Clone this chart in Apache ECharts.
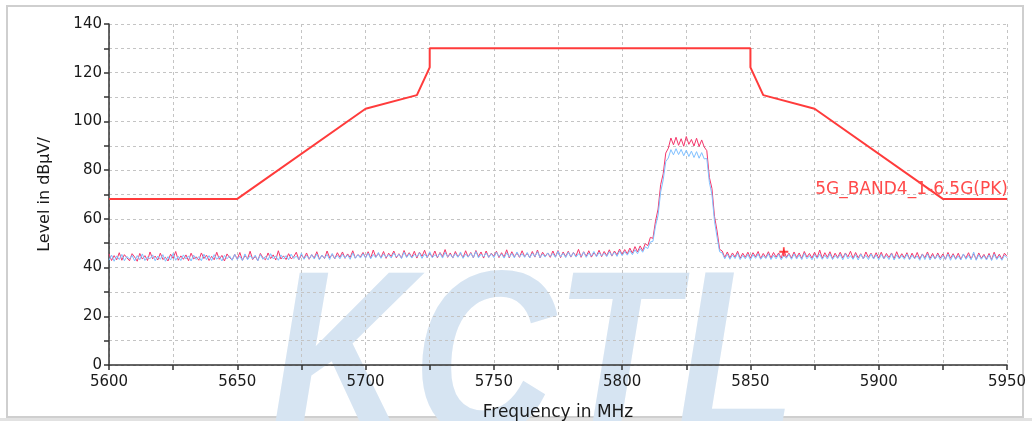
<!DOCTYPE html>
<html>
<head>
<meta charset="utf-8">
<script src="https://cdn.jsdelivr.net/npm/echarts@6/dist/echarts.min.js"></script>
<style>
html,body{margin:0;padding:0;background:#fff;}
#chart{width:1032px;height:421px;}
</style>
</head>
<body>
<div id="chart"></div>
<script>
// ---- data ----
const xTickValues = [5600, 5650, 5700, 5750, 5800, 5850, 5900, 5950];
const yTickValues = [0, 20, 40, 60, 80, 100, 120, 140];

const limitFreq  = [5600, 5650, 5700, 5720, 5725, 5725, 5850, 5850, 5855, 5875, 5925, 5950];
const limitLevel = [68.2, 68.2, 105.2, 110.8, 122.2, 130, 130, 122.2, 110.8, 105.2, 68.2, 68.2];
const limitName = '5G_BAND4_1-6.5G(PK)';

const traceStartMHz = 5600;
const traceStepMHz = 1;

const tracePink = [
  45.6, 42.9, 44.9, 43.2, 46.1, 43.0, 45.3, 44.0, 42.8, 45.7,
  44.3, 42.6, 45.8, 43.5, 44.9, 42.9, 46.4, 43.6, 44.7, 43.1,
  45.9, 43.3, 44.2, 42.7, 45.5, 43.8, 46.6, 43.0, 44.8, 43.4,
  45.2, 42.8, 45.9, 43.6, 44.4, 43.0, 46.0, 43.7, 45.1, 42.9,
  44.6, 43.2, 46.3, 43.4, 45.0, 42.7, 45.6, 44.1, 43.1, 45.4,
  43.5, 46.2, 43.0, 44.9, 43.6, 46.7, 43.3, 44.6, 42.9, 45.8,
  44.0, 43.2, 46.0, 43.7, 45.2, 43.1, 46.9, 43.5, 44.8, 43.3,
  45.7, 43.6, 44.4, 46.3, 43.2, 45.1, 43.8, 46.0, 43.4, 45.3,
  43.9, 46.5, 43.5, 45.0, 43.7, 46.8, 44.0, 45.4, 43.6, 46.1,
  44.2, 46.4, 43.8, 45.6, 44.1, 46.9, 43.9, 45.3, 44.4, 46.2,
  44.0, 46.5, 43.9, 47.2, 44.3, 45.8, 44.1, 46.6, 43.8, 45.9,
  44.5, 46.8, 44.0, 45.7, 43.9, 47.0, 44.4, 46.1, 44.2, 46.7,
  43.9, 46.3, 44.6, 47.1, 44.1, 45.9, 44.3, 46.8, 44.0, 46.2,
  44.5, 47.4, 44.2, 46.0, 43.9, 46.6, 44.4, 45.8, 44.1, 46.9,
  44.3, 46.2, 44.0, 47.0, 44.5, 46.4, 43.9, 46.8, 44.2, 45.9,
  44.6, 46.7, 44.1, 46.1, 44.3, 47.3, 44.0, 46.5, 44.4, 46.0,
  44.2, 46.9, 44.5, 45.8, 44.1, 46.6, 44.3, 47.2, 44.0, 46.3,
  44.6, 46.0, 44.2, 46.8, 44.4, 47.0, 44.1, 46.4, 44.5, 46.7,
  44.3, 46.2, 44.7, 47.5, 44.2, 46.5, 44.6, 46.9, 44.3, 46.1,
  44.8, 47.1, 44.5, 46.6, 44.9, 47.3, 44.7, 46.8, 45.2, 47.6,
  45.3, 47.4, 45.6, 48.0, 45.9, 48.6, 46.4, 48.9, 47.0, 49.8,
  49.0, 52.4, 52.0, 59.0, 64.0, 74.0, 78.5, 87.0, 89.0, 93.2,
  90.4, 93.5, 90.2, 92.9, 89.8, 93.8, 90.6, 92.6, 89.9, 93.1,
  89.7, 92.4, 89.5, 88.0, 77.0, 72.5, 61.0, 55.0, 47.5, 46.8,
  44.1, 46.4, 43.9, 46.0, 44.3, 46.7, 43.8, 45.9, 44.2, 46.3,
  43.9, 46.1, 44.4, 46.6, 43.7, 45.8, 44.1, 46.5, 43.9, 46.2,
  44.3, 46.0, 43.8, 47.4, 44.2, 45.9, 43.9, 46.4, 44.1, 46.0,
  43.7, 46.6, 44.3, 45.8, 43.9, 46.3, 44.0, 47.2, 43.8, 46.1,
  44.2, 46.5, 43.7, 45.9, 44.1, 46.3, 43.9, 46.0, 44.4, 46.7,
  43.8, 46.2, 44.0, 45.7, 43.6, 46.4, 44.2, 45.9, 43.8, 46.1,
  43.9, 46.3, 43.7, 45.8, 44.1, 46.0, 43.6, 46.5, 43.9, 45.7,
  44.0, 46.1, 43.5, 45.9, 43.8, 46.2, 43.6, 45.6, 44.0, 46.4,
  43.7, 45.8, 43.5, 46.0, 43.9, 45.6, 43.4, 46.2, 43.8, 45.7,
  43.6, 45.9, 43.4, 45.5, 43.9, 46.1, 43.5, 45.7, 43.3, 46.0,
  43.8, 45.4, 43.5, 45.8, 43.2, 46.3, 43.7, 45.5, 43.4, 45.9,
  44.6
];

const traceBlue = [
  43.0, 45.1, 42.6, 44.8, 43.3, 45.4, 42.8, 44.6, 43.5, 45.0,
  42.7, 44.9, 43.2, 45.6, 42.9, 44.4, 43.6, 45.2, 42.8, 44.7,
  43.4, 45.3, 42.6, 44.5, 43.1, 45.8, 43.0, 44.6, 42.9, 45.2,
  43.5, 44.8, 42.7, 45.1, 43.3, 44.5, 42.8, 45.5, 43.2, 44.9,
  42.9, 45.3, 43.4, 44.6, 42.7, 45.0, 43.6, 44.8, 43.0, 45.4,
  43.3, 44.7, 42.9, 45.6, 43.2, 44.9, 43.5, 45.1, 42.8, 45.3,
  43.4, 44.6, 43.1, 45.7, 43.6, 44.8, 43.0, 45.2, 43.5, 44.9,
  43.2, 45.5, 43.7, 44.7, 43.3, 45.9, 43.4, 45.0, 43.6, 45.3,
  43.5, 45.6, 43.2, 45.1, 43.8, 45.4, 43.3, 45.8, 43.7, 45.0,
  43.6, 45.5, 43.9, 45.2, 43.4, 46.0, 43.8, 45.3, 43.9, 45.7,
  44.0, 45.9, 43.6, 45.4, 44.1, 46.2, 43.8, 45.6, 44.2, 45.3,
  43.9, 46.0, 44.3, 45.5, 43.7, 46.3, 44.1, 45.7, 43.9, 45.4,
  44.4, 46.1, 43.8, 45.6, 44.2, 46.5, 44.0, 45.3, 44.3, 45.9,
  43.9, 46.2, 44.4, 45.5, 44.0, 45.8, 44.2, 46.4, 43.8, 45.6,
  44.3, 45.9, 44.1, 46.6, 44.0, 45.5, 44.4, 46.0, 44.2, 45.7,
  44.1, 46.3, 44.5, 45.6, 43.9, 46.1, 44.3, 45.8, 44.0, 46.4,
  44.4, 45.7, 44.2, 46.2, 44.0, 45.9, 44.5, 46.5, 44.1, 45.6,
  44.3, 46.0, 44.6, 45.8, 44.2, 46.7, 44.4, 45.9, 44.1, 46.3,
  44.5, 46.1, 44.3, 45.7, 44.6, 46.4, 44.2, 46.0, 44.7, 46.6,
  44.4, 46.2, 44.8, 45.9, 44.5, 46.5, 44.9, 46.3, 44.6, 46.8,
  44.9, 46.6, 45.1, 47.0, 45.3, 47.3, 45.7, 47.8, 46.3, 48.5,
  47.8, 50.5, 50.8, 57.0, 61.5, 71.0, 76.0, 83.5, 85.0, 88.4,
  86.3, 88.8, 86.4, 88.5, 85.9, 88.2, 85.6, 87.8, 85.2, 87.6,
  84.9, 87.2, 84.6, 84.8, 75.0, 70.0, 59.0, 52.5, 46.5, 46.0,
  43.6, 45.5, 43.4, 45.2, 43.7, 45.8, 43.3, 45.0, 43.6, 45.4,
  43.2, 45.3, 43.8, 45.6, 43.4, 44.9, 43.7, 45.7, 43.3, 45.1,
  43.6, 45.5, 43.2, 45.0, 43.8, 45.4, 43.4, 45.6, 43.5, 45.2,
  43.3, 45.8, 43.6, 44.9, 43.2, 45.3, 43.7, 45.5, 43.4, 45.1,
  43.5, 45.6, 43.3, 45.0, 43.7, 45.4, 43.2, 45.7, 43.6, 44.9,
  43.4, 45.3, 43.1, 45.5, 43.6, 45.0, 43.3, 45.6, 43.5, 45.2,
  43.2, 45.4, 43.6, 44.9, 43.3, 45.7, 43.1, 45.2, 43.5, 45.0,
  43.4, 45.5, 43.2, 45.1, 43.6, 44.8, 43.0, 45.4, 43.3, 45.6,
  43.1, 45.0, 43.5, 45.3, 43.2, 44.9, 43.4, 45.5, 43.0, 45.2,
  43.3, 44.8, 43.1, 45.6, 43.4, 45.0, 43.2, 46.4, 43.0, 45.3,
  43.4, 44.9, 43.1, 45.2, 42.9, 45.5, 43.3, 44.8, 43.0, 45.1,
  44.0
];

const markerFreq = [5863];
const markerLevel = [46.5];

// ---- build ----
const pinkData = tracePink.map((v, i) => [traceStartMHz + i * traceStepMHz, v]);
const blueData = traceBlue.map((v, i) => [traceStartMHz + i * traceStepMHz, v]);
const limitData = limitFreq.map((f, i) => [f, limitLevel[i]]);
const markerData = markerFreq.map((f, i) => [f, markerLevel[i]]);

const FONT = 'DejaVu Sans';
const chart = echarts.init(document.getElementById('chart'), null, {renderer: 'canvas'});

chart.setOption({
  animation: false,
  backgroundColor: '#ffffff',
  grid: {left: 109, right: 25, top: 24, bottom: 56, containLabel: false, outerBoundsMode: 'none'},
  graphic: [
    {type: 'rect', z: -20, silent: true, shape: {x: 7, y: 6, width: 1016, height: 411},
     style: {fill: '#ffffff', stroke: '#cfcfcf', lineWidth: 2}},
    {type: 'rect', z: -20, silent: true, shape: {x: 0, y: 418, width: 1032, height: 3},
     style: {fill: '#e2e2e2'}},
    {type: 'text', z: -10, silent: true, x: 270, y: 370, scaleX: 0.84,
     style: {text: 'KCTL', fill: '#d6e4f2', font: 'italic bold 235px "Liberation Sans"',
             textAlign: 'left', textVerticalAlign: 'middle'}},
    {type: 'text', z: 50, silent: true, x: 1008, y: 190,
     style: {text: limitName, fill: '#ff4a4a', font: '17px "' + FONT + '"',
             textAlign: 'right', textVerticalAlign: 'middle'}}
  ],
  xAxis: {
    type: 'value', min: 5600, max: 5950, interval: 25,
    name: 'Frequency in MHz', nameLocation: 'middle', nameGap: 39,
    nameTextStyle: {fontFamily: FONT, fontSize: 17, color: '#1a1a1a'},
    axisLine: {show: true, onZero: false, lineStyle: {color: '#333', width: 1.5}},
    axisTick: {show: true, length: 5, lineStyle: {color: '#333', width: 1.5}},
    axisLabel: {
      margin: 10, fontFamily: FONT, fontSize: 15, color: '#1a1a1a',
      formatter: v => xTickValues.indexOf(v) >= 0 ? String(v) : ''
    },
    splitLine: {show: true, lineStyle: {color: '#c4c4c4', type: [3, 3], width: 1}}
  },
  yAxis: {
    type: 'value', min: 0, max: 140, interval: 10,
    name: 'Level in dB\u00b5V/', nameLocation: 'middle', nameGap: 56, nameRotate: 90,
    nameTextStyle: {fontFamily: FONT, fontSize: 16, color: '#1a1a1a'},
    axisLine: {show: true, lineStyle: {color: '#333', width: 1.5}},
    axisTick: {show: true, length: 5, lineStyle: {color: '#333', width: 1.5}},
    axisLabel: {
      margin: 7, fontFamily: FONT, fontSize: 15, color: '#1a1a1a',
      formatter: v => yTickValues.indexOf(v) >= 0 ? String(v) : ''
    },
    splitLine: {show: true, lineStyle: {color: '#c4c4c4', type: [3, 3], width: 1}}
  },
  series: [
    {type: 'line', name: 'PK', data: pinkData, showSymbol: false, z: 3,
     lineStyle: {color: '#f4366b', width: 1}},
    {type: 'line', name: 'AV', data: blueData, showSymbol: false, z: 4,
     lineStyle: {color: '#7fc0ff', width: 1}},
    {type: 'line', name: limitName, data: limitData, showSymbol: false, z: 5,
     lineStyle: {color: '#ff3b3b', width: 2}},
    {type: 'scatter', name: 'marker', data: markerData, z: 6,
     symbol: 'path://M4,0h2v4h4v2h-4v4h-2v-4h-4v-2h4z', symbolSize: 9,
     itemStyle: {color: '#ff1a1a'}}
  ]
});
</script>
</body>
</html>
